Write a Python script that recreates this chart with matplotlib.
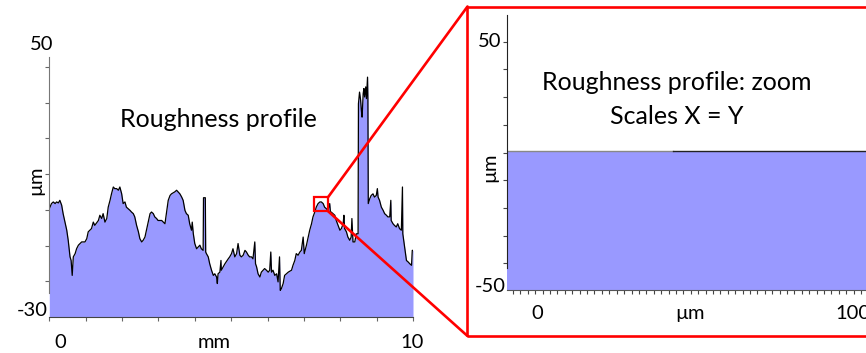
import numpy as np
import matplotlib
matplotlib.use("Agg")
import matplotlib.pyplot as plt
from matplotlib.patches import Rectangle, ConnectionPatch

# Roughness profile over 10 mm (height in µm)
profile_x_mm = [
    0.00, 0.06, 0.11, 0.16, 0.20, 0.25, 0.29, 0.34, 0.38, 0.43, 0.48, 0.52, 0.57, 0.60,
    0.63, 0.66, 0.71, 0.75, 0.80, 0.89, 0.98, 1.03, 1.07, 1.16, 1.21, 1.25, 1.35, 1.39,
    1.44, 1.48, 1.53, 1.58, 1.62, 1.67, 1.71, 1.76, 1.80, 1.85, 1.90, 1.94, 1.99, 2.03,
    2.08, 2.12, 2.17, 2.22, 2.26, 2.31, 2.35, 2.40, 2.45, 2.49, 2.54, 2.58, 2.63, 2.67,
    2.72, 2.77, 2.81, 2.86, 2.90, 2.95, 2.99, 3.09, 3.18, 3.22, 3.27, 3.32, 3.36, 3.45,
    3.50, 3.54, 3.59, 3.64, 3.68, 3.73, 3.77, 3.82, 3.86, 3.91, 3.93, 3.96, 4.00, 4.05,
    4.09, 4.14, 4.18, 4.23, 4.24, 4.29, 4.30, 4.32, 4.37, 4.41, 4.46, 4.51, 4.55, 4.60,
    4.62, 4.64, 4.69, 4.72, 4.73, 4.78, 4.83, 4.92, 4.96, 5.01, 5.05, 5.10, 5.15, 5.19,
    5.24, 5.28, 5.33, 5.38, 5.42, 5.47, 5.51, 5.56, 5.60, 5.65, 5.67, 5.70, 5.74, 5.79,
    5.83, 5.92, 5.97, 6.02, 6.06, 6.09, 6.11, 6.15, 6.20, 6.25, 6.29, 6.33, 6.35, 6.38,
    6.43, 6.47, 6.57, 6.66, 6.70, 6.75, 6.79, 6.84, 6.89, 6.93, 6.98, 7.01, 7.07, 7.12,
    7.16, 7.21, 7.25, 7.30, 7.34, 7.39, 7.44, 7.48, 7.53, 7.57, 7.62, 7.66, 7.71, 7.73,
    7.75, 7.85, 7.89, 7.94, 7.99, 8.03, 8.08, 8.10, 8.12, 8.17, 8.21, 8.26, 8.30, 8.32,
    8.35, 8.40, 8.44, 8.49, 8.50, 8.53, 8.56, 8.58, 8.60, 8.63, 8.65, 8.67, 8.70, 8.72,
    8.75, 8.76, 8.77, 8.81, 8.85, 8.90, 8.94, 8.99, 9.02, 9.04, 9.08, 9.13, 9.18, 9.22,
    9.27, 9.31, 9.36, 9.39, 9.40, 9.45, 9.49, 9.54, 9.58, 9.63, 9.68, 9.71, 9.72, 9.77,
    9.82, 9.87, 9.91, 9.96, 9.98, 10.00,
]
profile_z_um = [
    3.3, 4.9, 5.4, 4.9, 5.4, 5.1, 5.9, 4.4, 1.8, -0.8, -3.3, -6.4, -11.5, -12.6,
    -17.2, -11.5, -10.5, -9.0, -7.9, -6.9, -6.9, -5.9, -3.8, -2.8, -0.8, -1.8, -0.3, 1.3,
    0.3, 1.8, -0.8, 0.3, 3.8, 5.9, 7.9, 10.0, 9.5, 9.5, 9.0, 10.0, 7.9, 4.9,
    5.4, 3.8, 3.3, 2.8, 2.3, 1.8, 0.8, -1.8, -3.8, -5.9, -6.9, -6.4, -5.4, -3.3,
    -0.8, 1.8, 2.3, 1.8, 0.8, 0.3, -0.3, -0.3, -1.3, 1.8, 5.9, 7.4, 7.9, 8.5,
    9.0, 8.5, 7.9, 6.9, 5.9, 2.8, 1.8, 1.3, -1.3, -3.3, -0.8, -4.4, -7.4, -9.0,
    -8.5, -7.9, -9.0, -9.5, 6.7, 6.7, -10.0, -10.5, -11.5, -13.6, -15.6, -17.2, -16.7, -17.7,
    -19.7, -16.7, -16.2, -12.6, -15.6, -14.6, -13.6, -12.1, -11.5, -10.5, -9.0, -11.5, -10.5, -7.4,
    -11.0, -11.5, -11.0, -9.5, -10.0, -11.0, -11.5, -11.5, -12.1, -6.9, -13.6, -14.6, -16.7, -17.7,
    -16.2, -15.1, -15.6, -16.2, -15.6, -10.0, -16.2, -15.6, -17.2, -16.7, -19.2, -11.5, -21.8, -21.3,
    -19.7, -17.2, -16.2, -15.6, -14.1, -12.6, -10.5, -11.0, -10.0, -9.5, -5.4, -10.5, -7.9, -5.4,
    -3.3, -1.3, 0.8, 2.3, 3.8, 4.9, 5.4, 5.4, 4.9, 3.8, 3.3, 2.8, 4.9, 2.3,
    2.3, 1.3, -0.3, -1.8, -3.3, -2.8, -1.3, 1.3, -2.8, -3.8, -5.4, -6.4, -5.4, 0.3,
    -6.9, -6.9, -4.4, -4.4, 35.6, 39.2, 36.7, 33.6, 31.5, 38.7, 40.3, 37.7, 40.8, 37.2,
    43.8, 37.2, 4.9, 6.4, 7.4, 7.9, 6.9, 7.4, 9.5, 6.9, 5.9, 3.8, 2.8, 1.8,
    1.3, 0.8, 0.8, 5.9, -0.3, -1.3, -1.8, -2.3, -1.3, -2.8, -3.3, 10.0, -4.4, -8.5,
    -12.6, -13.1, -13.6, -14.1, -9.5, -9.5,
]

# Zoomed segment (µm along x, µm height)
zoom_x_um = [-9.6, 43.2, 43.2, 104.4]
zoom_z_um = [5.8, 5.8, 6.1, 6.1]

# Region of the profile that is magnified on the right (mm, µm)
zoom_box_mm = (7.28, 7.66)
zoom_box_um = (2.6, 6.8)

W, H = 866, 353
FILL = "#9999FF"
RED = "#FF0000"
TITLE_SIZE = 18
TICK_SIZE = 14.5
plt.rcParams["font.family"] = ["Lato", "DejaVu Sans"]

fig = plt.figure(figsize=(W / 100, H / 100), dpi=100)


def fx(px):
    return px / W


def fy(py):
    return 1 - py / H


def axes_at(left, top, right, bottom):
    return fig.add_axes([fx(left), fy(bottom), fx(right) - fx(left), fy(top) - fy(bottom)])


def label(x, y, s, size=TICK_SIZE, **kw):
    fig.text(fx(x), fy(y), s, fontsize=size, ha="center", va="baseline", **kw)


# ---- main profile ----
ax = axes_at(49.3, 57, 413, 317)
ax.set_xlim(0, 10)
ax.set_ylim(-30, 50)
ax.patch.set_visible(False)
ax.fill_between(profile_x_mm, profile_z_um, -30, color=FILL, lw=0, zorder=1)
ax.plot(profile_x_mm, profile_z_um, color="black", lw=0.9, zorder=2)
for s in ("top", "right"):
    ax.spines[s].set_visible(False)
ax.spines["left"].set_bounds(-22.6, 50)
ax.spines["left"].set_color("#777777")
ax.spines["bottom"].set_color("#444444")
ax.set_xticks(np.arange(0, 10.5, 1))
ax.set_yticks(np.arange(-19, 50, 11))
ax.tick_params(labelleft=False, labelbottom=False, length=3, width=0.8, colors="#666666")

label(42, 50, "50")
label(32, 316, "-30")
label(60, 348, "0")
label(214, 348, "mm")
label(412, 348, "10")
fig.text(fx(36), fy(180), "µm", fontsize=TICK_SIZE, rotation=90, ha="center", va="center")
label(218, 126.7, "Roughness profile", size=TITLE_SIZE)

# box marking the magnified region
x0, x1 = zoom_box_mm
y0, y1 = zoom_box_um
ax.add_patch(Rectangle((x0, y0), x1 - x0, y1 - y0, fill=False, ec=RED, lw=1.6,
                       clip_on=False, zorder=5))

# ---- zoom frame ----
fig.add_artist(Rectangle((fx(467.5), fy(336)), 1.2, fy(6.5) - fy(336), fill=False,
                         ec=RED, lw=1.9, transform=fig.transFigure, zorder=6))
for (ya, yb) in ((y1, 6.5), (y0, 336)):
    fig.add_artist(ConnectionPatch(xyA=(x1, ya), coordsA=ax.transData,
                                   xyB=(467.5, H - yb), coordsB="figure pixels",
                                   color=RED, lw=1.9, zorder=6))

ax2 = axes_at(506.7, 15, 866, 290)
ax2.set_xlim(-9.6, 104.4)
ax2.set_ylim(-50, 60.75)
ax2.patch.set_visible(False)
ax2.fill_between(zoom_x_um, zoom_z_um, -50, color=FILL, lw=0, zorder=1)
ax2.plot(zoom_x_um[:2], zoom_z_um[:2], color="#888888", lw=1.0, zorder=2)
ax2.plot(zoom_x_um[2:], zoom_z_um[2:], color="#222222", lw=1.0, zorder=2)
for s in ("top", "right"):
    ax2.spines[s].set_visible(False)
ax2.spines["left"].set_bounds(-41.1, 60.75)
ax2.spines["left"].set_color("#222222")
ax2.spines["bottom"].set_color("#555555")
ax2.set_xticks(np.arange(-7.6, 104.4, 2.35))
ax2.set_yticks(50 - 11.16 * np.arange(9))
ax2.tick_params(labelleft=False, labelbottom=False, length=3, width=0.8, colors="#444444")

label(490, 46.7, "50")
label(490, 292, "-50")
label(537, 319, "0")
label(690, 319, "µm")
label(853, 319, "100")
fig.text(fx(490), fy(167), "µm", fontsize=TICK_SIZE, rotation=90, ha="center", va="center")
label(676.5, 90, "Roughness profile: zoom", size=TITLE_SIZE)
label(677, 124, "Scales X = Y", size=TITLE_SIZE)

fig.savefig("out.png", dpi=100)
